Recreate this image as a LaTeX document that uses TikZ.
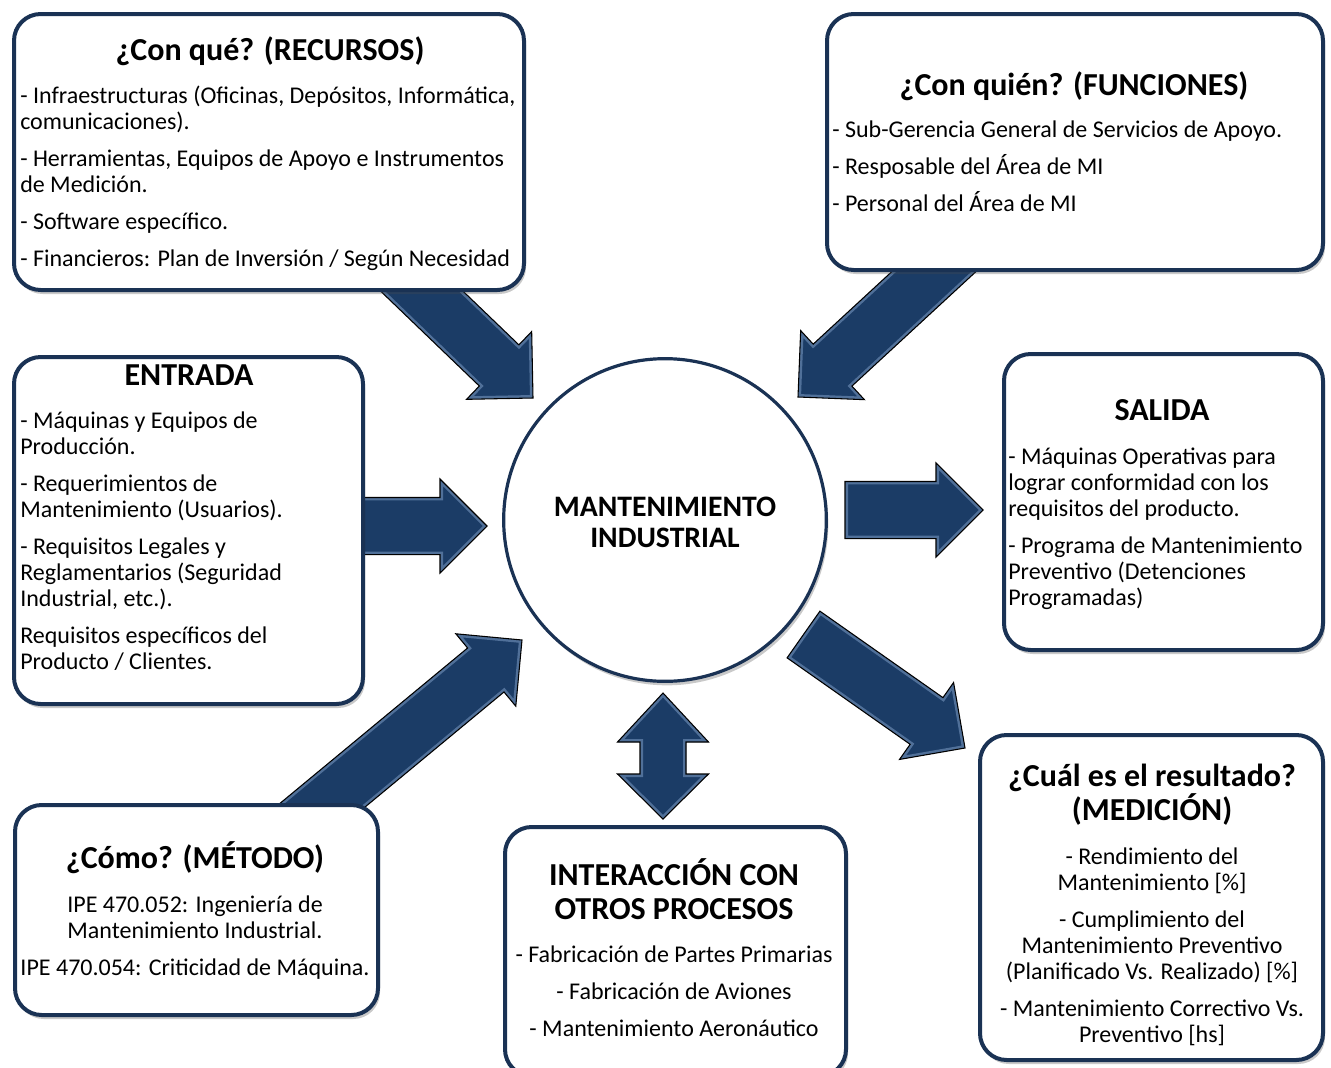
\documentclass[tikz,border=0pt]{standalone}
\usepackage{fontspec}
\setmainfont{Carlito}
\usetikzlibrary{calc,fit,shadows}

\definecolor{navyline}{RGB}{26,50,84}
\definecolor{navyfill}{RGB}{27,60,102}
\definecolor{bevelblue}{RGB}{125,155,195}

% fixed line pitch, whatever the accents
\newcommand\fixedlines{\lineskiplimit=-100pt\lineskip=0pt\relax}
\newcommand\bodyfont{\fontsize{18}{19.5}\selectfont\fixedlines}
\newcommand\headfont{\fontsize{24}{25.5}\selectfont\bfseries\fixedlines}
\newcommand\corefont{\fontsize{22.3}{23.25}\selectfont\bfseries\fixedlines}
\newcommand\tallstrut{\rule[-0.3\baselineskip]{0pt}{\baselineskip}}
\newcommand\gap{\\[8.25pt]}

% block arrow from tail coordinate #1 to tip coordinate #2
\newcommand\blockarrow[2]{%
  \coordinate (#2-h) at ($(#2)!35.25pt!(#1)$);
  \coordinate (#2-a) at ($(#1)!21.4pt!90:(#2)$);
  \coordinate (#2-b) at ($(#2-h)!21.4pt!90:(#2)$);
  \coordinate (#2-c) at ($(#2-h)!35.25pt!90:(#2)$);
  \coordinate (#2-d) at ($(#2-h)!35.25pt!-90:(#2)$);
  \coordinate (#2-e) at ($(#2-h)!21.4pt!-90:(#2)$);
  \coordinate (#2-f) at ($(#1)!21.4pt!-90:(#2)$);
  \fill[navyfill] (#2-a) -- (#2-b) -- (#2-c) -- (#2) -- (#2-d) -- (#2-e) -- (#2-f) -- cycle;
  \begin{scope}
    \clip (#2-a) -- (#2-b) -- (#2-c) -- (#2) -- (#2-d) -- (#2-e) -- (#2-f) -- cycle;
    \draw[bevel] (#2-a) -- (#2-b) -- (#2-c) -- (#2) -- (#2-d) -- (#2-e) -- (#2-f) -- cycle;
  \end{scope}
  \draw[arrowedge] (#2-a) -- (#2-b) -- (#2-c) -- (#2) -- (#2-d) -- (#2-e) -- (#2-f) -- cycle;
}

\tikzset{
  box/.style={draw=navyline, line width=3pt, fill=white, rounded corners=20pt,
    inner sep=0pt,
    drop shadow={shadow xshift=1.5pt, shadow yshift=-3pt, opacity=0.3, fill=black!70}},
  core/.style={circle, draw=navyline, line width=2.4pt, fill=white, inner sep=0pt,
    minimum size=242pt,
    drop shadow={shadow xshift=1.5pt, shadow yshift=-3pt, opacity=0.3, fill=black!70}},
  bevel/.style={draw=bevelblue, line width=4.5pt, opacity=0.55, line join=miter},
  arrowedge/.style={draw=black, line width=0.8pt, line join=miter},
  title/.style={font=\headfont, align=center, inner sep=0pt, anchor=north},
  bodyl/.style={font=\bodyfont, align=left, inner sep=0pt, anchor=north west},
  bodyc/.style={font=\bodyfont, align=center, inner sep=0pt, anchor=north},
}

\begin{document}
\begin{tikzpicture}[x=0.75pt, y=-0.75pt]
\useasboundingbox (0,0) rectangle (1331,1067);
\clip (0,0) rectangle (1331,1067);

% ---- arrow end points ----
\coordinate (recT) at (379.5,250.5);  \coordinate (recH) at (533,398);
\coordinate (funT) at (976.5,232.3);  \coordinate (funH) at (798,397);
\coordinate (entT) at (330,526);      \coordinate (entH) at (487,526);
\coordinate (salT) at (845,510);      \coordinate (salH) at (983,510);
\coordinate (metT) at (280.5,840);    \coordinate (metH) at (522,640);
\coordinate (medT) at (803.5,634.5);  \coordinate (medH) at (965,748);
\coordinate (intU) at (663,693);      \coordinate (intD) at (663,819);

% ---- block arrows ----
\blockarrow{recT}{recH}
\blockarrow{funT}{funH}
\blockarrow{entT}{entH}
\blockarrow{salT}{salH}
\blockarrow{metT}{metH}
\blockarrow{medT}{medH}

% two-headed arrow towards the other processes
\fill[navyfill] (intU) -- ($(intU)+(45.5,49)$) -- ($(intU)+(23,49)$) -- ($(intD)+(23,-45)$)
  -- ($(intD)+(45.5,-45)$) -- (intD) -- ($(intD)+(-45.5,-45)$) -- ($(intD)+(-23,-45)$)
  -- ($(intU)+(-23,49)$) -- ($(intU)+(-45.5,49)$) -- cycle;
\begin{scope}
  \clip (intU) -- ($(intU)+(45.5,49)$) -- ($(intU)+(23,49)$) -- ($(intD)+(23,-45)$)
    -- ($(intD)+(45.5,-45)$) -- (intD) -- ($(intD)+(-45.5,-45)$) -- ($(intD)+(-23,-45)$)
    -- ($(intU)+(-23,49)$) -- ($(intU)+(-45.5,49)$) -- cycle;
  \draw[bevel] (intU) -- ($(intU)+(45.5,49)$) -- ($(intU)+(23,49)$) -- ($(intD)+(23,-45)$)
    -- ($(intD)+(45.5,-45)$) -- (intD) -- ($(intD)+(-45.5,-45)$) -- ($(intD)+(-23,-45)$)
    -- ($(intU)+(-23,49)$) -- ($(intU)+(-45.5,49)$) -- cycle;
\end{scope}
\draw[arrowedge] (intU) -- ($(intU)+(45.5,49)$) -- ($(intU)+(23,49)$) -- ($(intD)+(23,-45)$)
  -- ($(intD)+(45.5,-45)$) -- (intD) -- ($(intD)+(-45.5,-45)$) -- ($(intD)+(-23,-45)$)
  -- ($(intU)+(-23,49)$) -- ($(intU)+(-45.5,49)$) -- cycle;

% ---- boxes ----
\node[box, fit={(14,14) (524,290)}]     (recursos)    {};
\node[box, fit={(827,14) (1323,270)}]   (funciones)   {};
\node[box, fit={(14,357) (363,704)}]    (entrada)     {};
\node[box, fit={(1004,354) (1323,650)}] (salida)      {};
\node[box, fit={(980,735) (1323,1060)}] (medicion)    {};
\node[box, fit={(15,805) (378,1015)}]   (metodo)      {};
\node[box, fit={(505,827) (846,1076)}]  (interaccion) {};

\node[core] (centro) at (665,520) {};
\node[font=\corefont, align=center, inner sep=0pt, anchor=north] (centroT) at (665,494.2)
  {\tallstrut MANTENIMIENTO\\INDUSTRIAL};

% ---- titles ----
\node[title] (recursosT)    at (270,36.2)   {\tallstrut ¿Con qué? (RECURSOS)};
\node[title] (funcionesT)   at (1074,71.2)  {\tallstrut ¿Con quién? (FUNCIONES)};
\node[title] (entradaT)     at (189,361.2)  {\tallstrut ENTRADA};
\node[title] (salidaT)      at (1162,396.2) {\tallstrut SALIDA};
\node[title] (medicionT)    at (1152,762.2) {\tallstrut ¿Cuál es el resultado?\\(MEDICIÓN)};
\node[title] (metodoT)      at (195,841.2)  {\tallstrut ¿Cómo? (MÉTODO)};
\node[title] (interaccionT) at (674,858.2)  {\tallstrut INTERACCIÓN CON\\OTROS PROCESOS};

% ---- contents ----
\node[bodyl] (recursosB) at (20,85) {\tallstrut - Infraestructuras (Oficinas, Depósitos, Informática,\\
  comunicaciones).\gap
  - Herramientas, Equipos de Apoyo e Instrumentos\\
  de Medición.\gap
  - Software específico.\gap
  - Financieros: Plan de Inversión / Según Necesidad};

\node[bodyl] (funcionesB) at (832,118.7) {\tallstrut - Sub-Gerencia General de Servicios de Apoyo.\gap
  - Resposable del Área de MI\gap
  - Personal del Área de MI};

\node[bodyl] (entradaB) at (20,409.7) {\tallstrut - Máquinas y Equipos de\\
  Producción.\gap
  - Requerimientos de\\
  Mantenimiento (Usuarios).\gap
  - Requisitos Legales y\\
  Reglamentarios (Seguridad\\
  Industrial, etc.).\gap
  Requisitos específicos del\\
  Producto / Clientes.};

\node[bodyl] (salidaB) at (1008,445.7) {\tallstrut - Máquinas Operativas para\\
  lograr conformidad con los\\
  requisitos del producto.\gap
  - Programa de Mantenimiento\\
  Preventivo (Detenciones\\
  Programadas)};

\node[bodyc] (medicionB) at (1152,845.7) {\tallstrut - Rendimiento del\\
  Mantenimiento [\%]\gap
  - Cumplimiento del\\
  Mantenimiento Preventivo\\
  (Planificado Vs. Realizado) [\%]\gap
  - Mantenimiento Correctivo Vs.\\
  Preventivo [hs]};

\node[bodyc] (metodoB) at (195,893.7) {\tallstrut IPE 470.052: Ingeniería de\\
  Mantenimiento Industrial.\gap
  IPE 470.054: Criticidad de Máquina.};

\node[bodyc] (interaccionB) at (674,943.7) {\tallstrut - Fabricación de Partes Primarias\gap
  - Fabricación de Aviones\gap
  - Mantenimiento Aeronáutico};
\end{tikzpicture}
\end{document}
